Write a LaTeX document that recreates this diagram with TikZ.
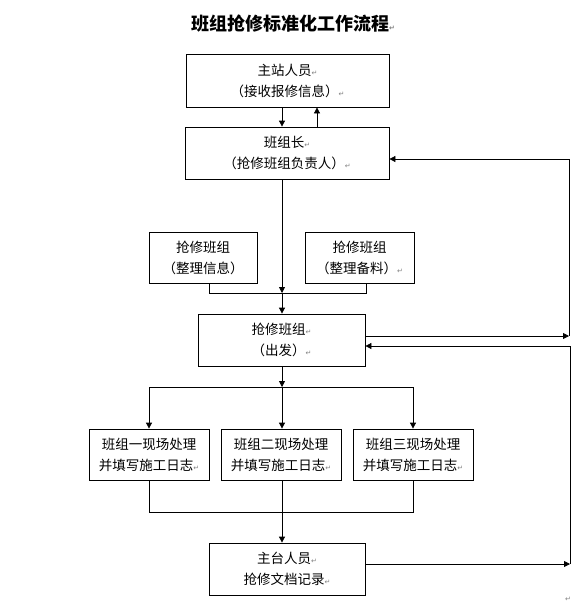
\documentclass[tikz,border=0pt]{standalone}
\usepackage{fontspec}
\setmainfont{Noto Sans CJK SC}
\newfontfamily\markfont{DejaVu Sans}
\usetikzlibrary{arrows.meta}
\newcommand{\retmk}{{\markfont\color{gray}\fontsize{7}{7}\selectfont ↵}}
\begin{document}
\begin{tikzpicture}[x=1pt,y=-1pt,
  box/.style={draw=black,line width=0.8pt,align=center,inner sep=0pt,font=\fontsize{13.5}{21}\selectfont},
  arr/.style={-{Triangle[length=6pt,width=6pt]}},
  ln/.style={draw=black,line width=0.8pt}]
\useasboundingbox (0,0) rectangle (583,606);
\node (title) at (293,24) {\fontsize{18}{18}\selectfont\bfseries 班组抢修标准化工作流程\retmk};
\node[box,minimum width=203pt,minimum height=53pt] (zhan) at (287.5,80.5) {主站人员\retmk\\（接收报修信息）\retmk};
\node[box,minimum width=204pt,minimum height=52pt] (zhang) at (287,153) {班组长\retmk\\（抢修班组负责人）\retmk};
\node[box,minimum width=108pt,minimum height=51pt] (xinxi) at (203,257.5) {抢修班组\\（整理信息）};
\node[box,minimum width=109pt,minimum height=51pt] (beiliao) at (359.5,257.5) {抢修班组\\（整理备料）\retmk};
\node[box,minimum width=167pt,minimum height=52pt] (chufa) at (281.5,340) {抢修班组\retmk\\（出发）\retmk};
\node[box,minimum width=120pt,minimum height=51pt] (zu1) at (149,454.5) {班组一现场处理\\并填写施工日志\retmk};
\node[box,minimum width=120pt,minimum height=51pt] (zu2) at (281,454.5) {班组二现场处理\\并填写施工日志\retmk};
\node[box,minimum width=120pt,minimum height=51pt] (zu3) at (413,454.5) {班组三现场处理\\并填写施工日志\retmk};
\node[box,minimum width=156pt,minimum height=52pt] (zhutai) at (287,569) {主台人员\retmk\\抢修文档记录\retmk};
\node (endmk) at (568,599) {\retmk};
\coordinate (jn) at (282,293);
\coordinate (sp) at (282,387);
\coordinate (jb) at (282,512);
\coordinate (r1) at (569,336);
\coordinate (r2) at (570,564);
\draw[ln,arr] ([xshift=-5.5pt]zhan.south) -- ([xshift=-5pt]zhang.north);
\draw[ln,arr] ([xshift=30pt]zhang.north) -- ([xshift=29.5pt]zhan.south);
\draw[ln,arr] ([xshift=-5pt]zhang.south) -- (jn);
\draw[ln] ([xshift=6pt]xinxi.south) |- (jn);
\draw[ln] ([xshift=6.5pt]beiliao.south) |- (jn);
\draw[ln,arr] (jn) -- (jn |- chufa.north);
\draw[ln,arr] ([yshift=4pt]chufa.east) -- (r1);
\draw[ln,arr] (r1) |- ([yshift=-6pt]zhang.east);
\draw[ln,arr] ([yshift=5pt]zhutai.east) -- (r2);
\draw[ln,arr] (r2) |- ([yshift=-6pt]chufa.east);
\draw[ln,arr] (sp |- chufa.south) -- (sp);
\draw[ln,arr] (sp) -- (sp |- zu2.north);
\draw[ln,arr] (sp) -| (zu1.north);
\draw[ln,arr] (sp) -| (zu3.north);
\draw[ln] (zu1.south) |- (jb);
\draw[ln] (zu3.south) |- (jb);
\draw[ln] (jb |- zu2.south) -- (jb);
\draw[ln,arr] (jb) -- (jb |- zhutai.north);
\end{tikzpicture}
\end{document}
